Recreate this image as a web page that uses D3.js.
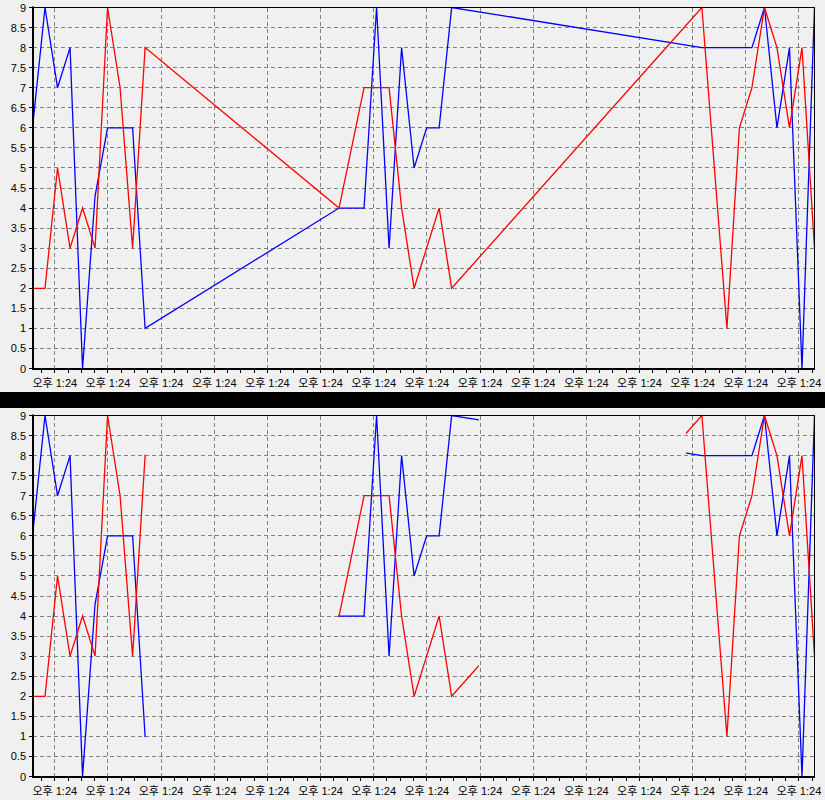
<!DOCTYPE html>
<html><head><meta charset="utf-8">
<script src="https://cdn.jsdelivr.net/npm/d3@7/dist/d3.min.js"></script>
<style>body{margin:0;background:#f0f0f0;}svg{display:block;}</style>
</head><body>
<svg id="chart" width="825" height="800"></svg>
<script>
// ---- data ----
const times = [0,1,2,3,4,5,6,7,8,9,
  24.5,25.5,26.5,27.5,28.5,29.5,30.5,31.5,32.5,33.5,
  53.5,54.5,55.5,56.5,57.5,58.5,59.5,60.5,61.5,62.5];
const blueValues = [6,9,7,8,0,4.3,6,6,6,1,
  4,4,4,9,3,8,5,6,6,9,
  8,8,8,8,8,9,6,8,0,9];
const redValues = [2,2,5,3,4,3,9,7,3,8,
  4,5.5,7,7,7,4,2,3,4,2,
  9,5,1,6,7,9,8,6,8,3];
const xDomain = [0.04, 62.46];
const xTickValues = [1.742,5.99,10.238,14.486,18.734,22.982,27.23,31.478,35.726,39.974,44.222,48.47,52.718,56.966,61.214];
const xTickLabels = ["오후 1:24","오후 1:24","오후 1:24","오후 1:24","오후 1:24","오후 1:24","오후 1:24","오후 1:24",
  "오후 1:24","오후 1:24","오후 1:24","오후 1:24","오후 1:24","오후 1:24","오후 1:24"];
const xMinorStep = 1.062;
const yTickValues = [0,0.5,1,1.5,2,2.5,3,3.5,4,4.5,5,5.5,6,6.5,7,7.5,8,8.5,9];
const bottomHiddenRanges = [[9, 24.5], [35.61, 52.29]];

// ---- layout ----
const svg = d3.select("#chart");
const W = 825;
svg.append("rect").attr("width", W).attr("height", 800).attr("fill", "#f0f0f0");
svg.append("rect").attr("x", 0).attr("y", 392).attr("width", W).attr("height", 16).attr("fill", "#000");

const x = d3.scaleLinear().domain(xDomain).range([33, 814]);
const blue = times.map((t, i) => ({t, v: blueValues[i]}));
const red = times.map((t, i) => ({t, v: redValues[i]}));

const panels = [
  {id: "top", y0: 368.5, y1: 7.5, hidden: []},
  {id: "bot", y0: 776.5, y1: 415.5, hidden: bottomHiddenRanges}
];

const minorTicks = d3.range(xTickValues[0] - xMinorStep, xDomain[1], xMinorStep).filter(t => t >= xDomain[0]);

panels.forEach(p => {
  const y = d3.scaleLinear().domain([0, 9]).range([p.y0, p.y1]);
  const g = svg.append("g");
  const left = 33, right = 814;

  // grid
  g.selectAll(".hg").data(yTickValues).join("line")
    .attr("x1", left).attr("x2", right)
    .attr("y1", d => Math.round(y(d) - 0.5) + 0.5).attr("y2", d => Math.round(y(d) - 0.5) + 0.5)
    .attr("stroke", "#808080").attr("stroke-dasharray", "4,3").attr("shape-rendering", "crispEdges");
  g.selectAll(".vg").data(xTickValues).join("line")
    .attr("x1", d => Math.round(x(d)) + 0.5).attr("x2", d => Math.round(x(d)) + 0.5)
    .attr("y1", p.y1).attr("y2", p.y0)
    .attr("stroke", "#808080").attr("stroke-dasharray", "4,3").attr("shape-rendering", "crispEdges");

  // clip
  const clipId = "clip-" + p.id;
  const cp = svg.append("defs").append("clipPath").attr("id", clipId);
  let vis = [];
  let start = xDomain[0] - 5;
  p.hidden.forEach(h => { vis.push([start, h[0]]); start = h[1]; });
  vis.push([start, xDomain[1] + 5]);
  vis.forEach(v => {
    let xa = Math.max(left, x(v[0]) - 0.8), xb = Math.min(right, x(v[1]) + 0.8);
    cp.append("rect").attr("x", xa).attr("y", p.y1 - 1).attr("width", Math.max(0, xb - xa)).attr("height", p.y0 - p.y1 + 1.5);
  });

  const line = d3.line().x(d => x(d.t)).y(d => y(d.v));
  const lg = g.append("g").attr("clip-path", `url(#${clipId})`);
  lg.append("path").datum(blue).attr("d", line).attr("fill", "none").attr("stroke", "#0000ff").attr("stroke-width", 1.3);
  lg.append("path").datum(red).attr("d", line).attr("fill", "none").attr("stroke", "#ff0000").attr("stroke-width", 1.3);

  // borders / axes
  g.append("line").attr("x1", left).attr("x2", right + 1).attr("y1", p.y1 - 0.5).attr("y2", p.y1 - 0.5)
    .attr("stroke", "#000").attr("shape-rendering", "crispEdges");
  g.append("line").attr("x1", right + 0.5).attr("x2", right + 0.5).attr("y1", p.y1 - 1).attr("y2", p.y0 + 1)
    .attr("stroke", "#000").attr("shape-rendering", "crispEdges");
  g.append("rect").attr("x", 32).attr("y", p.y1 - 1).attr("width", 2).attr("height", p.y0 - p.y1 + 2.5).attr("fill", "#000");
  g.append("rect").attr("x", 32).attr("y", p.y0 - 0.5).attr("width", right - 31).attr("height", 2).attr("fill", "#000");

  // y ticks and labels
  g.selectAll(".yt").data(yTickValues).join("line")
    .attr("x1", 29).attr("x2", 32)
    .attr("y1", d => Math.round(y(d) - 0.5) + 0.5).attr("y2", d => Math.round(y(d) - 0.5) + 0.5)
    .attr("stroke", "#000").attr("shape-rendering", "crispEdges");
  g.selectAll(".yl").data(yTickValues).join("text")
    .attr("x", 26).attr("y", d => y(d) + 4)
    .attr("text-anchor", "end").attr("font-family", "Liberation Sans, Arial, sans-serif").attr("font-size", 11)
    .attr("fill", "#000").text(d => String(d));

  // x ticks and labels
  g.selectAll(".xt").data(minorTicks).join("line")
    .attr("x1", d => Math.round(x(d)) + 0.5).attr("x2", d => Math.round(x(d)) + 0.5)
    .attr("y1", p.y0 + 1.5).attr("y2", p.y0 + 4)
    .attr("stroke", "#000").attr("shape-rendering", "crispEdges");
  g.selectAll(".xl").data(xTickValues).join("text")
    .attr("x", d => x(d) + 0.5).attr("y", p.y0 + 18)
    .attr("text-anchor", "middle").attr("font-family", "Liberation Sans, 'Noto Sans CJK KR', sans-serif").attr("font-size", 11)
    .attr("fill", "#000").text((d, i) => xTickLabels[i]);
});
</script>
</body></html>
